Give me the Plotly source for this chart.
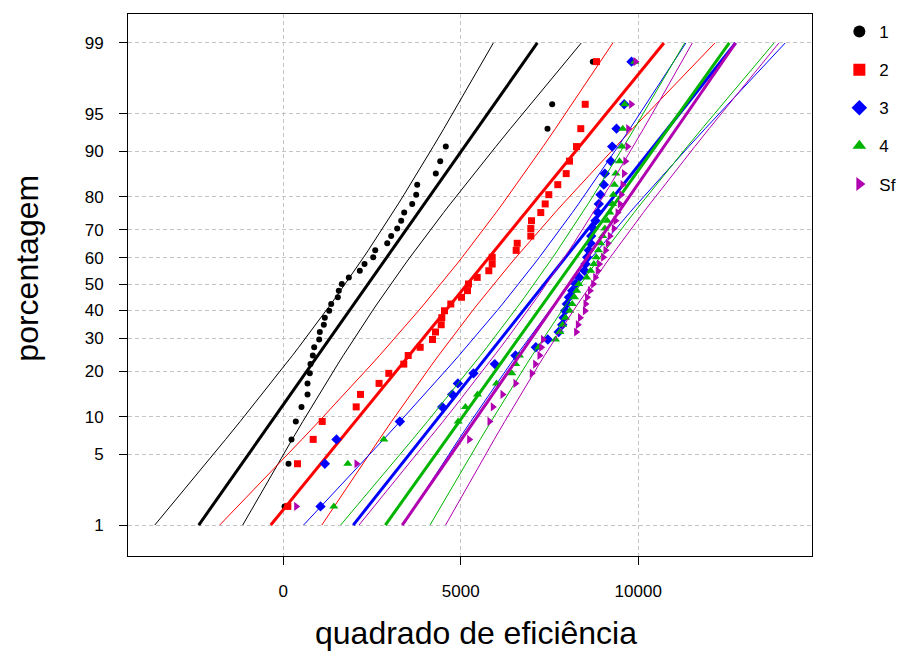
import math
from statistics import NormalDist
import plotly.graph_objects as go

# Squared efficiency per group, sorted ascending (39 observations each)
grupo_1 = [37, 149, 234, 355, 515, 685, 685, 749, 769, 834, 873, 1014, 1031,
           1144, 1172, 1296, 1352, 1538, 1566, 1651, 1848, 2158, 2290, 2535,
           2592, 2930, 3042, 3211, 3324, 3408, 3634, 3746, 3775, 4299, 4423,
           4580, 7445, 7577, 8721]
grupo_2 = [130, 403, 845, 1099, 2056, 2177, 2700, 2975, 3397, 3521, 3859, 4206,
           4290, 4451, 4468, 4544, 4721, 5023, 5192, 5220, 5465, 5792, 5887,
           5887, 6563, 6592, 6975, 6975, 6994, 7256, 7380, 7482, 7735, 7972,
           8065, 8262, 8383, 8507, 8825]
grupo_3 = [1051, 1173, 1501, 3286, 4479, 4761, 4920, 5361, 5961, 6544, 7116,
           7454, 7760, 7860, 7900, 7940, 7990, 8050, 8140, 8240, 8340, 8487,
           8515, 8563, 8608, 8656, 8676, 8732, 8797, 8862, 8890, 8938, 9031,
           9060, 9228, 9268, 9389, 9606, 9811]
grupo_4 = [1426, 1820, 2834, 4930, 5135, 5473, 6008, 6439, 6550, 6656, 7200,
           7670, 7792, 7870, 7952, 8073, 8141, 8206, 8270, 8327, 8550, 8660,
           8750, 8820, 8880, 8940, 9000, 9060, 9130, 9200, 9280, 9300, 9330,
           9370, 9473, 9540, 9566, 9623, 9904]
grupo_sf = [366, 2065, 5239, 5811, 5904, 6177, 6544, 7003, 7099, 7220, 7268,
            7320, 8254, 8300, 8360, 8500, 8515, 8560, 8640, 8732, 8790, 8860,
            8900, 9014, 9079, 9144, 9200, 9313, 9361, 9420, 9482, 9520, 9560,
            9600, 9640, 9700, 9720, 9803, 9924]

nomes = ["1", "2", "3", "4", "Sf"]
grupos = [grupo_1, grupo_2, grupo_3, grupo_4, grupo_sf]
cores = ["#000000", "#FF0000", "#0000FF", "#00B400", "#B000B0"]
simbolos = ["circle", "square", "diamond", "triangle-up", "triangle-right"]
tamanhos = [6, 7, 8, 8, 8]

pct_ticks = [1, 5, 10, 20, 30, 40, 50, 60, 70, 80, 90, 95, 99]
x_ticks = [0, 5000, 10000]

nd = NormalDist()


def blom(n):
    return [(i - 0.375) / (n + 0.25) for i in range(1, n + 1)]


fig = go.Figure()

for nome, dados, cor, simb, tam in zip(nomes, grupos, cores, simbolos, tamanhos):
    x = sorted(dados)
    n = len(x)
    z = [nd.inv_cdf(p) for p in blom(n)]
    mu = sum(x) / n
    s = math.sqrt(sum((v - mu) ** 2 for v in x) / n)
    zg = [nd.inv_cdf(0.01)] + z + [nd.inv_cdf(0.99)]
    ajuste = [mu + s * q for q in zg]
    meia = [1.96 * s * math.sqrt(1 / n + q * q / (2 * n)) for q in zg]
    inf = [a - h for a, h in zip(ajuste, meia)]
    sup = [a + h for a, h in zip(ajuste, meia)]

    for banda in (inf, sup):
        fig.add_trace(go.Scatter(x=banda, y=zg, mode="lines",
                                 line=dict(color=cor, width=1),
                                 showlegend=False, hoverinfo="skip"))
    fig.add_trace(go.Scatter(x=ajuste, y=zg, mode="lines",
                             line=dict(color=cor, width=3),
                             showlegend=False, hoverinfo="skip"))
    fig.add_trace(go.Scatter(x=x, y=z, mode="markers", name=nome,
                             legendgroup=nome,
                             marker=dict(color=cor, symbol=simb, size=tam,
                                         line=dict(width=0))))

fonte = "Liberation Sans, Arial, sans-serif"
grade = dict(showgrid=True, gridcolor="#c4c4c4", griddash="4px,3px",
             gridwidth=1, zeroline=False, showline=True, mirror=True,
             linecolor="black", linewidth=1, ticks="outside", ticklen=8,
             tickcolor="black", tickfont=dict(size=17, color="black",
                                              family=fonte))

fig.update_layout(
    width=899, height=651,
    margin=dict(l=128, r=87, t=14, b=95, autoexpand=False),
    paper_bgcolor="white", plot_bgcolor="white",
    font=dict(family=fonte, color="black"),
    xaxis=dict(range=[-4372, 14896], tickvals=x_ticks,
               ticktext=[str(v) for v in x_ticks], ticklabelstandoff=12,
               **grade),
    yaxis=dict(range=[-2.625, 2.606],
               tickvals=[nd.inv_cdf(p / 100) for p in pct_ticks],
               ticktext=[str(p) for p in pct_ticks], ticklabelstandoff=12,
               **grade),
    legend=dict(x=1.04, y=1.0, xanchor="left", yanchor="top",
                font=dict(size=17, family=fonte), tracegroupgap=13,
                bgcolor="rgba(0,0,0,0)", itemsizing="constant"),
    annotations=[
        dict(text="quadrado de eficiência", xref="paper", yref="paper",
             x=0.509, y=-0.142, xanchor="center", yanchor="middle",
             showarrow=False, font=dict(size=32, family=fonte)),
        dict(text="porcentagem", xref="paper", yref="paper",
             x=-0.147, y=0.531, xanchor="center", yanchor="middle",
             textangle=-90, showarrow=False, font=dict(size=32, family=fonte)),
    ],
)

fig.write_html("out.html")
